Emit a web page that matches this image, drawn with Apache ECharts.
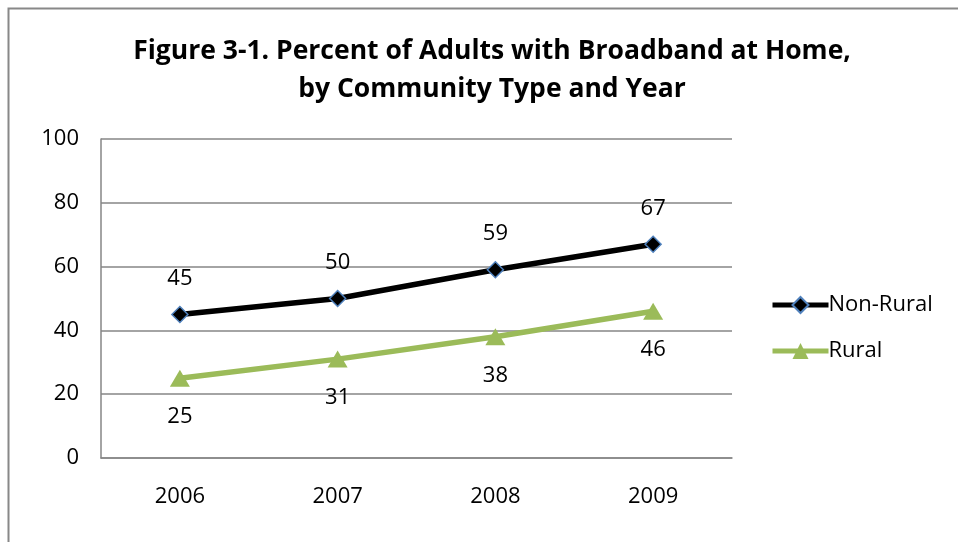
<!DOCTYPE html>
<html><head><meta charset="utf-8">
<script src="https://cdn.jsdelivr.net/npm/echarts@6/dist/echarts.min.js"></script>
<style>html,body{margin:0;padding:0;background:#fff}#c{width:958px;height:542px}</style>
</head><body><div id="c"></div>
<script>
const categories = ['2006', '2007', '2008', '2009'];
const nonRural = [45, 50, 59, 67];
const rural = [25, 31, 38, 46];
const yTicks = {min: 0, max: 100, interval: 20};
const titleText = 'Figure 3-1. Percent of Adults with Broadband at Home,\nby Community Type and Year';

const FONT = '"Open Sans", "Noto Sans", sans-serif';
const chart = echarts.init(document.getElementById('c'));
chart.setOption({
  animation: false,
  textStyle: {fontFamily: FONT},
  graphic: [{type: 'rect', shape: {x: 8.5, y: 8.5, width: 1000, height: 600}, style: {fill: 'none', stroke: '#888', lineWidth: 2}, silent: true}],
  title: {
    text: titleText, left: 487, textAlign: 'center', top: 27,
    textStyle: {fontFamily: FONT, fontWeight: 'bold', fontSize: 26.5, lineHeight: 38, color: '#000'}
  },
  legend: {
    orient: 'vertical', left: 765, top: 289, itemGap: 24, itemWidth: 56, itemHeight: 20,
    textStyle: {fontFamily: FONT, fontSize: 22, color: '#000', padding: [0, 0, 0, -5]},
    data: [
      {name: 'Non-Rural', lineStyle: {width: 5}},
      {name: 'Rural', lineStyle: {width: 5}}
    ]
  },
  grid: {left: 101, right: 226, top: 139, bottom: 84, containLabel: false},
  xAxis: {
    type: 'category', data: categories, boundaryGap: true,
    axisLine: {lineStyle: {color: '#868686', width: 1.5}},
    axisTick: {show: false},
    axisLabel: {fontFamily: FONT, fontSize: 22, color: '#000', margin: 28}
  },
  yAxis: {
    type: 'value', min: yTicks.min, max: yTicks.max, interval: yTicks.interval,
    axisLine: {show: true, lineStyle: {color: '#868686', width: 1.5}},
    axisTick: {show: false},
    splitLine: {lineStyle: {color: '#868686', width: 1.5}},
    axisLabel: {fontFamily: FONT, fontSize: 22, color: '#000', margin: 22}
  },
  series: [
    {
      name: 'Non-Rural', type: 'line', data: nonRural,
      symbol: 'diamond', symbolSize: 16,
      lineStyle: {color: '#000', width: 5.5},
      itemStyle: {color: '#000', borderColor: '#4f81bd', borderWidth: 1.5},
      label: {show: true, position: 'top', distance: 16, fontFamily: FONT, fontSize: 22, color: '#000'}
    },
    {
      name: 'Rural', type: 'line', data: rural,
      symbol: 'triangle', symbolSize: [20, 17],
      lineStyle: {color: '#9bbb59', width: 5.5},
      itemStyle: {color: '#9bbb59', borderWidth: 0},
      label: {show: true, position: 'bottom', distance: 19, fontFamily: FONT, fontSize: 22, color: '#000'}
    }
  ]
});
</script></body></html>
